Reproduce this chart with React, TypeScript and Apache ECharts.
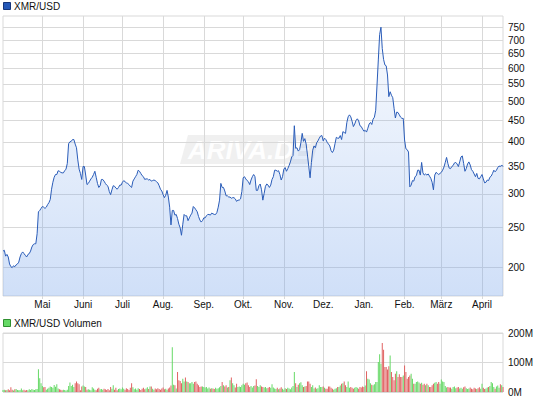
import React, { useEffect, useRef } from 'react';
import * as echarts from 'echarts';

// Daily closes, XMR/USD
const PRICE: number[] = [
  219, 220, 213, 215, 212, 204, 201, 200, 202, 201,
  203, 204, 206, 212, 216, 218, 216, 214, 212, 215,
  216, 219, 224, 227, 228, 228, 241, 272, 274, 277,
  280, 279, 277, 279, 283, 286, 291, 308, 320, 329,
  334, 334, 341, 340, 338, 337, 337, 341, 344, 355,
  396, 400, 401, 405, 405, 395, 387, 362, 344, 336,
  325, 349, 349, 333, 316, 318, 322, 326, 329, 334,
  340, 329, 318, 311, 314, 325, 325, 322, 318, 315,
  313, 304, 299, 307, 314, 313, 310, 308, 311, 315,
  315, 320, 323, 321, 319, 318, 316, 313, 311, 322,
  326, 330, 334, 342, 340, 336, 332, 330, 325, 326,
  326, 324, 325, 322, 323, 324, 323, 321, 319, 314,
  308, 305, 299, 294, 298, 306, 295, 279, 253, 274,
  274, 267, 268, 262, 254, 249, 239, 254, 268, 266,
  266, 259, 263, 267, 270, 280, 278, 275, 272, 265,
  260, 257, 259, 263, 263, 266, 268, 268, 267, 270,
  269, 268, 268, 271, 279, 290, 318, 311, 311, 305,
  297, 297, 295, 295, 293, 294, 294, 292, 288, 290,
  290, 292, 304, 328, 330, 326, 323, 321, 316, 324,
  330, 334, 330, 306, 306, 314, 317, 307, 290, 301,
  313, 317, 315, 311, 315, 325, 330, 342, 342, 340,
  341, 334, 324, 330, 344, 347, 340, 345, 351, 358,
  368, 371, 437, 386, 387, 380, 383, 398, 419, 401,
  407, 395, 372, 349, 328, 357, 382, 391, 387, 398,
  402, 408, 413, 414, 402, 408, 405, 399, 395, 391,
  381, 377, 382, 396, 410, 408, 408, 414, 405, 423,
  421, 419, 445, 459, 464, 459, 448, 435, 441, 450,
  454, 449, 437, 435, 429, 424, 426, 422, 431, 441,
  445, 440, 453, 458, 476, 547, 628, 722, 752, 669,
  630, 611, 608, 578, 513, 527, 517, 510, 481, 456,
  471, 470, 464, 458, 455, 455, 404, 385, 383, 378,
  312, 315, 323, 322, 330, 332, 342, 342, 333, 357,
  337, 333, 335, 333, 335, 331, 327, 320, 307, 333,
  338, 336, 334, 336, 338, 342, 348, 357, 367, 355,
  346, 345, 349, 351, 356, 357, 354, 349, 358, 368,
  370, 355, 340, 345, 354, 358, 352, 343, 340, 335,
  330, 336, 327, 326, 330, 334, 326, 319, 320, 324,
  323, 329, 331, 336, 342, 339, 342, 347, 350, 349,
  352, 349,
];

// Daily volume in millions
const VOLUME: number[] = [
  7, 8, 6, 7, 9, 6, 16, 8, 5, 9,
  10, 7, 6, 7, 12, 6, 8, 5, 7, 6,
  9, 7, 10, 8, 7, 9, 10, 77, 47, 30,
  20, 16, 17, 8, 11, 14, 19, 17, 14, 24,
  18, 26, 12, 9, 8, 6, 8, 7, 5, 8,
  20, 32, 20, 25, 17, 30, 36, 30, 26, 6,
  19, 22, 19, 17, 8, 9, 8, 6, 16, 12,
  8, 6, 11, 14, 9, 10, 8, 11, 9, 7,
  10, 6, 17, 11, 23, 8, 14, 6, 10, 12,
  9, 15, 11, 8, 13, 10, 7, 14, 30, 16,
  9, 12, 8, 13, 10, 7, 11, 14, 9, 12,
  16, 10, 19, 19, 11, 8, 12, 9, 13, 10,
  8, 12, 15, 9, 11, 8, 12, 15, 22, 152,
  25, 23, 12, 68, 40, 37, 30, 45, 36, 49,
  36, 34, 30, 30, 34, 28, 34, 36, 28, 23,
  17, 19, 19, 17, 15, 17, 12, 15, 11, 13,
  12, 10, 14, 11, 13, 16, 20, 34, 23, 19,
  23, 15, 17, 40, 49, 30, 23, 15, 28, 17,
  19, 17, 23, 28, 25, 30, 32, 23, 17, 20,
  15, 20, 22, 43, 20, 17, 23, 19, 17, 15,
  17, 13, 14, 17, 14, 26, 15, 12, 10, 14,
  9, 12, 16, 11, 8, 13, 10, 14, 12, 9,
  15, 20, 68, 30, 17, 25, 30, 33, 23, 17,
  19, 20, 36, 36, 28, 17, 23, 12, 15, 11,
  13, 23, 17, 17, 19, 14, 11, 11, 19, 19,
  14, 11, 8, 11, 13, 17, 17, 22, 28, 30,
  36, 23, 17, 36, 14, 17, 14, 11, 14, 17,
  14, 11, 17, 15, 19, 17, 22, 70, 45, 42,
  30, 25, 23, 26, 34, 34, 102, 128, 96, 166,
  143, 85, 85, 76, 87, 124, 68, 51, 40, 62,
  70, 51, 60, 51, 51, 56, 90, 68, 45, 51,
  56, 62, 45, 28, 28, 34, 36, 32, 28, 31,
  25, 28, 23, 28, 23, 17, 17, 23, 28, 31,
  34, 28, 34, 28, 42, 36, 34, 20, 15, 17,
  15, 15, 11, 17, 19, 13, 15, 17, 12, 14,
  11, 16, 19, 13, 10, 12, 15, 11, 9, 14,
  12, 10, 13, 16, 11, 28, 14, 10, 12, 15,
  17, 20, 34, 30, 17, 11, 19, 22, 14, 26,
  23, 17,
];

const PRICE_TICKS: number[] = [200, 250, 300, 350, 400, 450, 500, 550, 600, 650, 700, 750];
const MONTHS_DE: string[] = ['Jan.', 'Feb.', 'März', 'April', 'Mai', 'Juni', 'Juli', 'Aug.', 'Sep.', 'Okt.', 'Nov.', 'Dez.'];
const START_DAY = Date.UTC(2017, 3, 1);
const DATES: string[] = PRICE.map((_, i) => new Date(START_DAY + i * 86400000).toISOString().slice(0, 10));

const FONT = '"Liberation Sans", Arial, Helvetica, sans-serif';
const GRID_COLOR = '#d9d9d9';
const TEXT_COLOR = '#111';
const UP = '#66d966';
const DOWN = '#e06262';

const isMonthStart = (idx: number, val: string) => idx > 0 && String(val).slice(8, 10) === '01';

export default function App() {
  const ref = useRef<HTMLDivElement>(null);
  useEffect(() => {
    if (!ref.current) return;
    const chart = echarts.init(ref.current, undefined, { renderer: 'svg' });
    const volData = VOLUME.map((v, i) => ({
      value: v,
      itemStyle: { color: i === 0 || PRICE[i] >= PRICE[i - 1] ? UP : DOWN },
    }));
    const option: any = {
      animation: false,
      backgroundColor: '#fff',
      textStyle: { fontFamily: FONT },
      grid: [
        { left: 3, top: 16, width: 500, height: 280, show: true, borderColor: GRID_COLOR, borderWidth: 1, containLabel: false },
        { left: 3, top: 333, width: 500, height: 59, show: true, borderColor: GRID_COLOR, borderWidth: 1, containLabel: false },
      ],
      xAxis: [
        {
          type: 'category', gridIndex: 0, data: DATES, boundaryGap: false,
          axisLine: { show: false },
          axisTick: { show: true, interval: isMonthStart, length: 3, lineStyle: { color: GRID_COLOR } },
          axisLabel: {
            interval: isMonthStart, margin: 3, color: TEXT_COLOR, fontSize: 10, fontFamily: FONT,
            formatter: (v: string) => MONTHS_DE[parseInt(v.slice(5, 7), 10) - 1],
          },
          splitLine: { show: true, interval: isMonthStart, lineStyle: { color: GRID_COLOR, width: 1 } },
        },
        {
          type: 'category', gridIndex: 1, data: DATES, boundaryGap: false,
          axisLine: { show: false }, axisTick: { show: false }, axisLabel: { show: false },
          splitLine: { show: true, interval: isMonthStart, lineStyle: { color: GRID_COLOR, width: 1 } },
        },
      ],
      yAxis: [
        {
          type: 'log', logBase: 10, gridIndex: 0, position: 'right', min: 171, max: 800,
          axisLine: { show: false },
          axisTick: { show: false, customValues: PRICE_TICKS },
          axisLabel: { customValues: PRICE_TICKS, margin: 5, color: TEXT_COLOR, fontSize: 10, fontFamily: FONT },
          splitLine: { show: true, lineStyle: { color: GRID_COLOR, width: 1 } },
        },
        {
          type: 'value', gridIndex: 1, position: 'right', min: 0, max: 200, interval: 100,
          axisLine: { show: false }, axisTick: { show: false },
          axisLabel: { margin: 5, color: TEXT_COLOR, fontSize: 10, fontFamily: FONT, formatter: '{value}M' },
          splitLine: { show: true, lineStyle: { color: GRID_COLOR, width: 1 } },
        },
      ],
      series: [
        {
          type: 'line', name: 'XMR/USD', xAxisIndex: 0, yAxisIndex: 0, data: PRICE,
          symbol: 'none', showSymbol: false, smooth: false, z: 3,
          lineStyle: { color: '#2a5cb8', width: 1 },
          areaStyle: {
            origin: 'start',
            color: {
              type: 'linear', x: 0, y: 0, x2: 0, y2: 1,
              colorStops: [
                { offset: 0, color: 'rgba(120,165,235,0.08)' },
                { offset: 1, color: 'rgba(120,165,235,0.5)' },
              ],
            },
          },
        },
        {
          type: 'bar', name: 'XMR/USD Volumen', xAxisIndex: 1, yAxisIndex: 1, data: volData,
          barWidth: 1, barGap: '0%',
        },
      ],
      graphic: [
        {
          type: 'group', left: 180, top: 135, z: 1, silent: true,
          children: [
            {
              type: 'polygon',
              shape: { points: [[10, 0], [142, 0], [134, 29], [2, 29]] },
              style: { fill: 'rgba(200,200,200,0.28)' },
            },
            {
              type: 'text', x: 10, y: 15,
              style: {
                text: 'ARIVA.DE', fill: 'rgba(255,255,255,0.95)', font: 'italic bold 26px "Liberation Sans", Arial, sans-serif',
                verticalAlign: 'middle', align: 'left',
              },
            },
          ],
        },
        {
          type: 'rect', shape: { x: 3.5, y: 2.5, width: 7, height: 7 },
          style: { fill: '#2458b8', stroke: '#16357a', lineWidth: 1 },
        },
        {
          type: 'text', x: 14, y: 6.5,
          style: { text: 'XMR/USD', fill: TEXT_COLOR, font: '10px "Liberation Sans", Arial, sans-serif', verticalAlign: 'middle' },
        },
        {
          type: 'rect', shape: { x: 3.5, y: 319.5, width: 7, height: 7 },
          style: { fill: '#66d966', stroke: '#2f8f2f', lineWidth: 1 },
        },
        {
          type: 'text', x: 14, y: 323,
          style: { text: 'XMR/USD Volumen', fill: TEXT_COLOR, font: '10px "Liberation Sans", Arial, sans-serif', verticalAlign: 'middle' },
        },
      ],
    };
    chart.setOption(option);
    return () => chart.dispose();
  }, []);
  return <div ref={ref} style={{ position: 'absolute', left: 0, top: 0, width: 545, height: 401 }} />;
}
